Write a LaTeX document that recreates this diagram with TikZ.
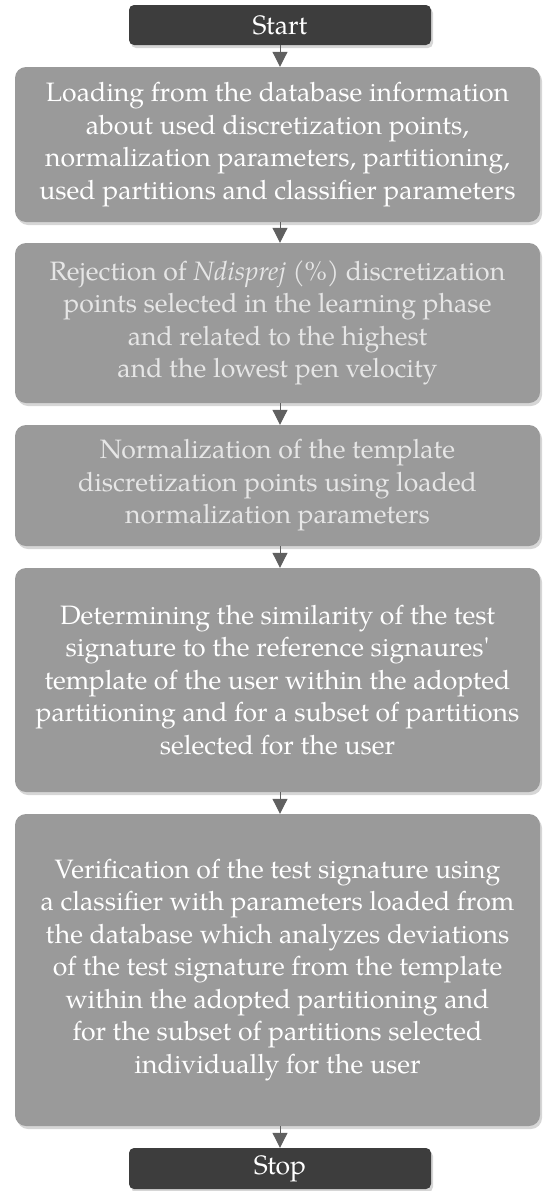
\documentclass[tikz,border=0pt]{standalone}
\usepackage{fontspec}
\IfFontExistsTF{TeX Gyre Pagella}{\setmainfont{TeX Gyre Pagella}}{\setmainfont{Liberation Serif}}
\usetikzlibrary{shadows,arrows.meta}
\definecolor{termfill}{HTML}{3D3D3D}
\definecolor{boxfill}{HTML}{9A9A9A}
\definecolor{arrowcol}{HTML}{606060}
\definecolor{dimtext}{HTML}{E6E6E6}
\definecolor{shadowcol}{HTML}{D6D6D6}
\tikzset{
  terminal/.style={rectangle, rounded corners=5pt, fill=termfill, text=white,
    minimum width=302pt, inner sep=0pt, font=\fontsize{26.6}{30}\selectfont,
    drop shadow={shadow xshift=2pt, shadow yshift=-3pt, fill=shadowcol, opacity=1}},
  procbox/.style={rectangle, rounded corners=11pt, fill=boxfill, text=white,
    minimum width=525pt, inner sep=0pt, align=center,
    font=\fontsize{26.6}{32.5}\selectfont,
    drop shadow={shadow xshift=2pt, shadow yshift=-3pt, fill=shadowcol, opacity=1}},
  flowarrow/.style={draw=arrowcol, line width=1pt,
    -{Triangle[width=15pt,length=15pt]}, arrowcol}
}
\begin{document}
\begin{tikzpicture}[x=1pt,y=-1pt]
\useasboundingbox (0,0) rectangle (543,1191);
\node[terminal, minimum height=40pt] (start) at (280,25) {Start};
\node[procbox, minimum height=155pt] (b1) at (277.5,144.5)
  {Loading from the database information\\about used discretization points,\\normalization parameters, partitioning,\\used partitions and classifier parameters};
\node[procbox, minimum height=160pt, text=dimtext] (b2) at (277.5,323)
  {Rejection of \textit{Ndisprej} (\%) discretization\\points selected in the learning phase\\and related to the highest\\and the lowest pen velocity};
\node[procbox, minimum height=121pt, text=dimtext] (b3) at (277.5,485.5)
  {Normalization of the template\\discretization points using loaded\\normalization parameters};
\node[procbox, minimum height=224pt] (b4) at (277.5,680)
  {Determining the similarity of the test\\signature to the reference signaures\textquotesingle\\template of the user within the adopted\\partitioning and for a subset of partitions\\selected for the user};
\node[procbox, minimum height=312pt] (b5) at (277.5,970)
  {Verification of the test signature using\\a classifier with parameters loaded from\\the database which analyzes deviations\\of the test signature from the template\\within the adopted partitioning and\\for the subset of partitions selected\\individually for the user};
\node[terminal, minimum height=41pt] (stop) at (280,1168.5) {Stop};
\draw[flowarrow] (start.south) -- (start.south |- b1.north);
\draw[flowarrow] (b1.south -| start.south) -- (start.south |- b2.north);
\draw[flowarrow] (b2.south -| start.south) -- (start.south |- b3.north);
\draw[flowarrow] (b3.south -| start.south) -- (start.south |- b4.north);
\draw[flowarrow] (b4.south -| start.south) -- (start.south |- b5.north);
\draw[flowarrow] (b5.south -| start.south) -- (stop.north);
\end{tikzpicture}
\end{document}
